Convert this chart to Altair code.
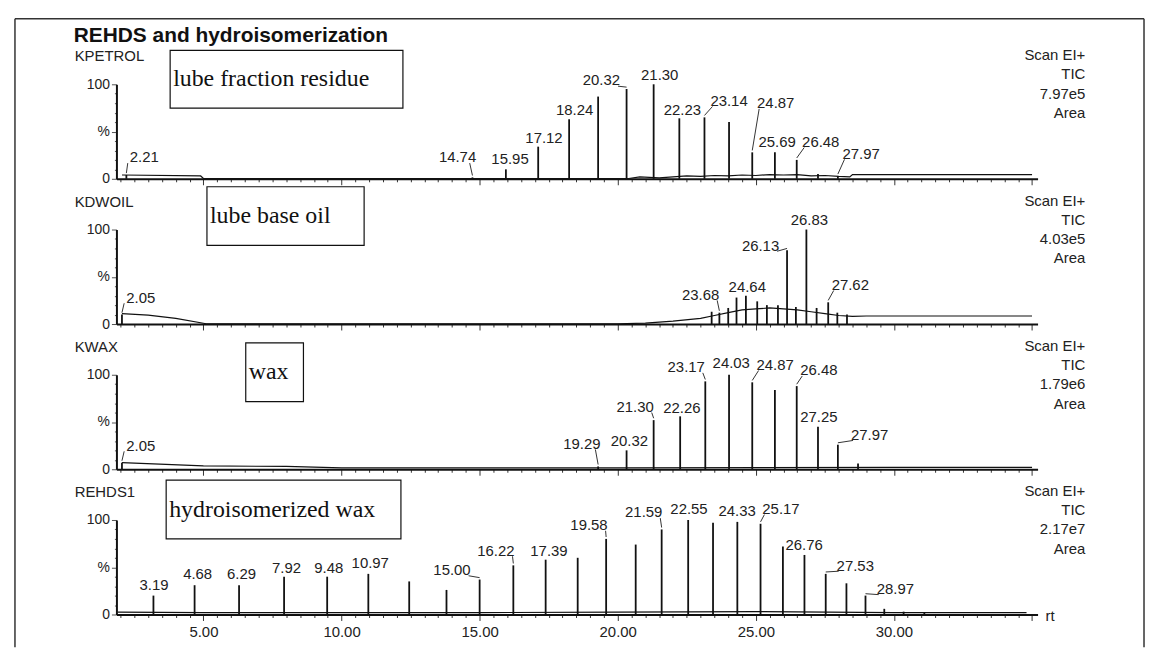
import altair as alt
import pandas as pd

# ---------------- data ----------------
X_DOMAIN = [1.85, 35.2]

panel_names = ["KPETROL", "KDWOIL", "KWAX", "REHDS1"]
sample_desc = ["lube fraction residue", "lube base oil", "wax", "hydroisomerized wax"]
tic_values = ["7.97e5", "4.03e5", "1.79e6", "2.17e7"]

# panel 1: lube fraction residue
p1_rt = [2.21, 14.74, 15.95, 17.12, 18.24, 19.29, 20.32, 21.30, 22.23, 23.14, 24.03, 24.87, 25.69, 26.48, 27.25, 27.97]
p1_h = [4, 1.5, 10, 34, 63, 87, 95, 100, 64, 65, 60, 28, 28, 20, 5, 3]
p1_lab = ["2.21", "14.74", "15.95", "17.12", "18.24", "20.32", "21.30", "22.23", "23.14", "24.87", "25.69", "26.48", "27.97"]
p1_lab_rt = [2.86, 14.2, 16.1, 17.33, 18.44, 19.41, 21.52, 22.34, 24.03, 25.72, 25.77, 27.35, 28.81]
p1_lab_lvl = [22.6, 22.6, 21, 43.5, 73, 104, 110, 73, 82.5, 80, 39, 39, 26.6]
p1_bl_rt = [2.05, 4.9, 5.0, 20.4, 20.8, 21.5, 22.0, 22.5, 23.0, 23.5, 24.0, 24.5, 25.0, 25.5, 26.0, 26.5, 27.0, 27.5, 28.0, 28.4, 28.5, 35.0]
p1_bl = [4.0, 3.0, 0.3, 0.3, 2.0, 1.0, 2.0, 3.0, 2.5, 3.5, 3.0, 4.0, 3.5, 4.5, 4.0, 4.5, 3.0, 3.5, 2.5, 2.0, 4.5, 4.5]

# panel 2: lube base oil
p2_rt = [2.05, 23.40, 23.68, 24.0, 24.30, 24.64, 25.05, 25.4, 25.8, 26.13, 26.45, 26.83, 27.2, 27.62, 27.95, 28.3]
p2_h = [10, 13, 12, 17, 28, 30, 24, 20, 20, 78, 18, 100, 17, 23, 12, 10]
p2_lab = ["2.05", "23.68", "24.64", "26.13", "26.83", "27.62"]
p2_lab_rt = [2.73, 23.0, 24.69, 25.17, 26.94, 28.42]
p2_lab_lvl = [28, 31, 39.6, 83, 110, 41.5]
p2_bl_rt = [2.05, 3.0, 4.0, 5.1, 20.0, 21.0, 22.0, 23.0, 23.5, 24.0, 24.5, 25.0, 25.5, 26.0, 26.5, 27.0, 27.5, 28.0, 28.5, 29.0, 35.0]
p2_bl = [11, 9.5, 6, 0.3, 0.3, 1, 3, 6, 9, 12, 15, 16, 17, 16, 15, 13, 11, 9, 8, 8.5, 8.5]

# panel 3: wax
p3_rt = [2.05, 19.29, 20.32, 21.30, 22.26, 23.17, 24.03, 24.87, 25.69, 26.48, 27.25, 27.97, 28.70]
p3_h = [7, 3, 20, 52, 56, 93, 100, 92, 84, 88, 45, 26, 6]
p3_lab = ["2.05", "19.29", "20.32", "21.30", "22.26", "23.17", "24.03", "24.87", "26.48", "27.25", "27.97"]
p3_lab_rt = [2.73, 18.7, 20.42, 20.63, 22.32, 22.48, 24.11, 25.7, 27.28, 27.28, 29.12]
p3_lab_lvl = [25, 27, 29.5, 66, 65, 108, 112, 110.5, 104.7, 55, 36.5]
p3_bl_rt = [2.05, 5.0, 8.0, 10.0, 20.0, 30.0, 35.0]
p3_bl = [7, 3.5, 3, 1.5, 1.5, 2, 2]

# panel 4: hydroisomerized wax
p4_rt = [3.19, 4.68, 6.29, 7.92, 9.48, 10.97, 12.45, 13.80, 15.00, 16.22, 17.39, 18.55, 19.58, 20.65, 21.59, 22.55,
         23.45, 24.33, 25.17, 25.98, 26.76, 27.53, 28.28, 28.97, 29.65, 30.35, 31.1]
p4_h = [20, 31, 31, 40, 40, 43, 35, 26, 37, 52, 58, 60, 80, 74, 90, 100, 97, 98, 96, 72, 63, 43, 33, 20, 6, 3, 2]
p4_lab = ["3.19", "4.68", "6.29", "7.92", "9.48", "10.97", "15.00", "16.22", "17.39", "19.58", "21.59", "22.55",
          "24.33", "25.17", "26.76", "27.53", "28.97"]
p4_lab_rt = [3.21, 4.79, 6.38, 8.01, 9.54, 11.04, 14.0, 15.59, 17.51, 18.96, 20.94, 22.58, 24.32, 25.91, 26.75, 28.6, 30.05]
p4_lab_lvl = [31.5, 42.8, 42.8, 49.5, 49.5, 54, 47, 67.6, 67.6, 94.6, 108, 111.7, 109.4, 111.7, 73.4, 51.8, 27]
p4_bl_rt = [1.9, 5.0, 10.0, 15.0, 20.0, 25.0, 30.0, 34.8]
p4_bl = [2.5, 2, 2, 2, 2.5, 3, 2, 2]

peaks = [(p1_rt, p1_h), (p2_rt, p2_h), (p3_rt, p3_h), (p4_rt, p4_h)]
labels = [(p1_lab, p1_lab_rt, p1_lab_lvl), (p2_lab, p2_lab_rt, p2_lab_lvl),
          (p3_lab, p3_lab_rt, p3_lab_lvl), (p4_lab, p4_lab_rt, p4_lab_lvl)]
baselines = [(p1_bl_rt, p1_bl), (p2_bl_rt, p2_bl), (p3_bl_rt, p3_bl), (p4_bl_rt, p4_bl)]

# ---------------- layout / style ----------------
W, H = 926, 95
SANS = "Liberation Sans"
SERIF = "Liberation Serif"
INK = "#111111"
TXT = "#222222"
# annotation boxes in pixels relative to each panel plot area (x0, x1, y0, y1)
boxes = [(54, 288, -34, 24), (91, 249, -43, 16), (130, 188, -32, 27), (50, 286, -40, 19)]

one = pd.DataFrame({"k": [0]})


def deco_text(txt, x, y, size=14, align="left", font=SANS, weight="normal", color=TXT):
    return alt.Chart(one).mark_text(
        font=font, fontSize=size, align=align, baseline="middle", fontWeight=weight, color=color
    ).encode(x=alt.value(x), y=alt.value(y), text=alt.value(txt))


def x_enc(field, last):
    axis = alt.Axis(
        values=[2 + 0.5 * k for k in range(67)],
        tickSize={"condition": {"test": "datum.value % 5 === 0", "value": 6}, "value": 3},
        tickColor="#333333", tickWidth=1, domainColor=INK, domainWidth=2,
        grid=False, title=None, labelOverlap=False, labelFlush=False,
        labels=last,
        labelExpr="(datum.value % 5 === 0 && datum.value < 34) ? format(datum.value, '.2f') : ''",
        labelFont=SANS, labelFontSize=15, labelColor=TXT, labelPadding=4,
    )
    return alt.X(field, type="quantitative",
                 scale=alt.Scale(domain=X_DOMAIN, nice=False, zero=False), axis=axis)


def y_enc(field):
    axis = alt.Axis(
        values=[0, 10, 20, 30, 40, 50, 60, 70, 80, 90, 100],
        labelExpr="datum.value === 100 ? '100' : (datum.value === 50 ? '%' : (datum.value === 0 ? '0' : ''))",
        tickSize={"condition": {"test": "datum.value % 50 === 0", "value": 5}, "value": 2},
        tickColor="#555555", domainColor=INK, domainWidth=2, grid=False, title=None,
        labelOverlap=False, labelFlush=False, labelFont=SANS, labelFontSize=14, labelColor=TXT,
        labelPadding=2,
    )
    return alt.Y(field, type="quantitative", scale=alt.Scale(domain=[0, 100], nice=False), axis=axis)


def leaders(lab, lrt, llv, rt, h):
    """short leader strokes from a displaced label to the top of its peak"""
    rows = []
    for t, lx, ly in zip(lab, lrt, llv):
        v = float(t)
        k = min(range(len(rt)), key=lambda n: abs(rt[n] - v))
        px, ph = rt[k], h[k]
        if abs(lx - px) < 0.3:
            continue
        side = 1 if px > lx else -1
        sx = lx + side * 0.6
        if side * (px - sx) < 0:
            sx = px + side * 0.1 * -1
        rows.append({"x1": sx, "y1": ly - 6, "x2": px, "y2": ph + 2})
    return pd.DataFrame(rows, columns=["x1", "y1", "x2", "y2"])


def panel(i):
    last = i == 3
    rt, h = peaks[i]
    dfp = pd.DataFrame({"rt": rt, "h": h, "zero": [0.0] * len(rt)})
    lab, lrt, llv = labels[i]
    dfl = pd.DataFrame({"lab": lab, "lrt": lrt, "llv": llv})
    brt, bl = baselines[i]
    dfb = pd.DataFrame({"brt": brt, "bl": bl})
    dld = leaders(lab, lrt, llv, rt, h)

    base = alt.Chart(dfb).mark_line(color=INK, strokeWidth=1.2).encode(
        x=x_enc("brt", last), y=y_enc("bl"))
    pk = alt.Chart(dfp).mark_rule(color=INK, strokeWidth=1.8).encode(
        x=x_enc("rt", last), y=y_enc("h"), y2=alt.Y2("zero"))
    ld = alt.Chart(dld).mark_rule(color="#333333", strokeWidth=1).encode(
        x=x_enc("x1", last), x2=alt.X2("x2"), y=y_enc("y1"), y2=alt.Y2("y2"))
    tx = alt.Chart(dfl).mark_text(font=SANS, fontSize=15, color=TXT, baseline="middle").encode(
        x=x_enc("lrt", last), y=y_enc("llv"), text="lab:N")

    bx0, bx1, by0, by1 = boxes[i]
    box = alt.Chart(one).mark_rect(fill="white", stroke=INK, strokeWidth=1.2).encode(
        x=alt.value(bx0), x2=alt.value(bx1), y=alt.value(by0), y2=alt.value(by1))
    layers = [base, pk, ld, tx, box,
              deco_text(sample_desc[i], bx0 + 3, (by0 + by1) / 2, size=24, font=SERIF, color="#111111"),
              deco_text(panel_names[i], -42, -28, size=15)]
    for j, t in enumerate(["Scan EI+", "TIC", tic_values[i], "Area"]):
        layers.append(deco_text(t, 974, [-29, -10, 9.5, 29][j], size=15, align="right"))
    if i == 0:
        layers.append(deco_text("REHDS and hydroisomerization", -43, -49, size=21, weight="bold", color="#111111"))
        frame = alt.Chart(one).mark_rule(color="#333333", strokeWidth=1.5)
        layers.append(frame.encode(x=alt.value(-102), y=alt.value(-66), y2=alt.value(566)))
        layers.append(frame.encode(x=alt.value(-102), x2=alt.value(1033), y=alt.value(-66)))
        layers.append(frame.encode(x=alt.value(1033), y=alt.value(-66), y2=alt.value(566)))
    if last:
        layers.append(deco_text("rt", 934, 97, size=15))
    return alt.layer(*layers).properties(width=W, height=H)


chart = alt.vconcat(*[panel(i) for i in range(4)], spacing=51, bounds="flush").properties(
    padding={"left": 5, "top": 7, "right": 0, "bottom": 0}
).configure_view(stroke="transparent")

chart.save("out.html", embed_options={"renderer": "svg", "actions": False})
